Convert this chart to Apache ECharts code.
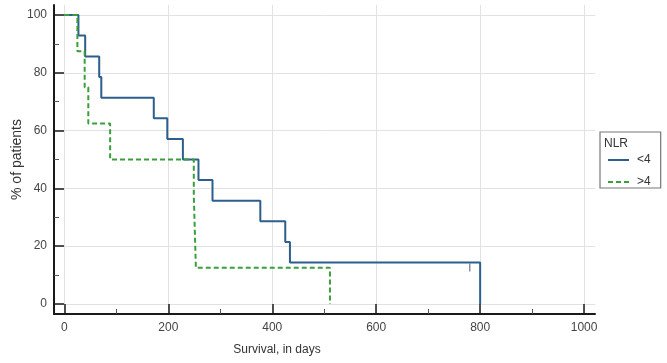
<!DOCTYPE html>
<html>
<head>
<meta charset="utf-8">
<script src="https://cdn.jsdelivr.net/npm/echarts@6/dist/echarts.min.js"></script>
<style>
  html, body { margin: 0; padding: 0; background: #fff; }
  #chart { width: 667px; height: 363px; }
</style>
</head>
<body>
<div id="chart"></div>
<script>
// Kaplan-Meier steps: time (days) and survival (%) after each event
const lowTimes = [0, 27, 40, 67, 71, 172, 198, 228, 258, 285, 377, 425, 434, 800];
const lowSurv = [100, 92.9, 85.7, 78.6, 71.4, 64.3, 57.1, 50, 42.9, 35.7, 28.6, 21.4, 14.3, 0];
const highTimes = [0, 25, 39, 46, 88, 249, 251, 253, 511];
const highSurv = [100, 87.5, 75, 62.5, 50, 37.5, 25, 12.5, 0];
const lowCensorTimes = [780];
const lowCensorSurv = [14.3];

const xTicks = [0, 200, 400, 600, 800, 1000];
const xMinorTicks = [100, 300, 500, 700, 900];
const yTicks = [0, 20, 40, 60, 80, 100];
const yMinorTicks = [10, 30, 50, 70, 90];

const BLUE = "#2c5f8e";
const GREEN = "#3a9e3a";
const FONT = "Liberation Sans";

const zip = (a, b) => a.map((v, i) => [v, b[i]]);

const chart = echarts.init(document.getElementById("chart"));

const axisLine = { show: true, onZero: false, lineStyle: { color: "#1a1a1a", width: 2 } };

chart.setOption({
  animation: false,
  grid: { left: 54, right: 72, top: 5, bottom: 49, outerBoundsMode: "none", containLabel: false },
  title: {
    text: "NLR",
    left: 604,
    top: 138,
    textStyle: { fontFamily: FONT, fontSize: 12, fontWeight: "normal", color: "#333" },
    padding: 0,
  },
  legend: {
    left: 600,
    top: 132,
    orient: "vertical",
    padding: [22, 10, 0, 7],
    itemGap: 10,
    itemWidth: 21,
    itemHeight: 12,
    borderColor: "#777",
    borderWidth: 1.2,
    itemStyle: { opacity: 0 },
    textStyle: { fontFamily: FONT, fontSize: 12, color: "#333", padding: [0, 0, 0, 3] },
    data: ["<4", ">4"],
  },
  xAxis: [
    {
      type: "value",
      min: -20,
      max: 1021,
      position: "bottom",
      axisLine,
      axisTick: { show: true, inside: true, length: 10, customValues: xTicks, lineStyle: { color: "#1a1a1a", width: 1.5 } },
      axisLabel: { customValues: xTicks, formatter: (v) => String(v), color: "#444", fontFamily: FONT, fontSize: 12, margin: 8 },
      splitLine: { show: true, lineStyle: { color: "#e2e2e2", width: 1 } },
      name: "Survival, in days",
      nameLocation: "middle",
      nameGap: 30,
      nameTextStyle: { fontFamily: FONT, fontSize: 12, color: "#333", padding: [0, 95, 0, 0] },
    },
    {
      type: "value",
      min: -20,
      max: 1021,
      position: "bottom",
      axisLine: { show: false, onZero: false },
      axisTick: { show: true, inside: true, length: 5, customValues: xMinorTicks, lineStyle: { color: "#555", width: 1 } },
      axisLabel: { show: false },
      splitLine: { show: false },
    },
  ],
  yAxis: [
    {
      type: "value",
      min: -3.5,
      max: 103.5,
      position: "left",
      axisLine,
      axisTick: { show: true, inside: true, length: 10, customValues: yTicks, lineStyle: { color: "#1a1a1a", width: 1.5 } },
      axisLabel: { customValues: yTicks, color: "#444", fontFamily: FONT, fontSize: 12, margin: 7 },
      splitLine: { show: true, lineStyle: { color: "#e2e2e2", width: 1 } },
      name: "% of patients",
      nameLocation: "middle",
      nameGap: 30,
      nameMoveOverlap: false,
      nameTextStyle: { fontFamily: FONT, fontSize: 14, color: "#333" },
    },
    {
      type: "value",
      min: -3.5,
      max: 103.5,
      position: "left",
      axisLine: { show: false, onZero: false },
      axisTick: { show: true, inside: true, length: 5, customValues: yMinorTicks, lineStyle: { color: "#555", width: 1 } },
      axisLabel: { show: false },
      splitLine: { show: false },
    },
  ],
  series: [
    {
      name: "<4",
      type: "line",
      step: "end",
      symbol: "none",
      data: zip(lowTimes, lowSurv),
      itemStyle: { color: BLUE },
      lineStyle: { color: BLUE, width: 2 },
      z: 3,
    },
    {
      name: ">4",
      type: "line",
      step: "end",
      symbol: "none",
      data: zip(highTimes, highSurv),
      itemStyle: { color: GREEN },
      lineStyle: { color: GREEN, width: 2, type: [5, 3] },
      z: 4,
    },
    {
      name: "censored",
      type: "scatter",
      symbol: "rect",
      symbolSize: [1.5, 8],
      symbolOffset: [0, 5],
      data: zip(lowCensorTimes, lowCensorSurv),
      itemStyle: { color: "#6b7785" },
      silent: true,
    },
  ],
});
</script>
</body>
</html>
